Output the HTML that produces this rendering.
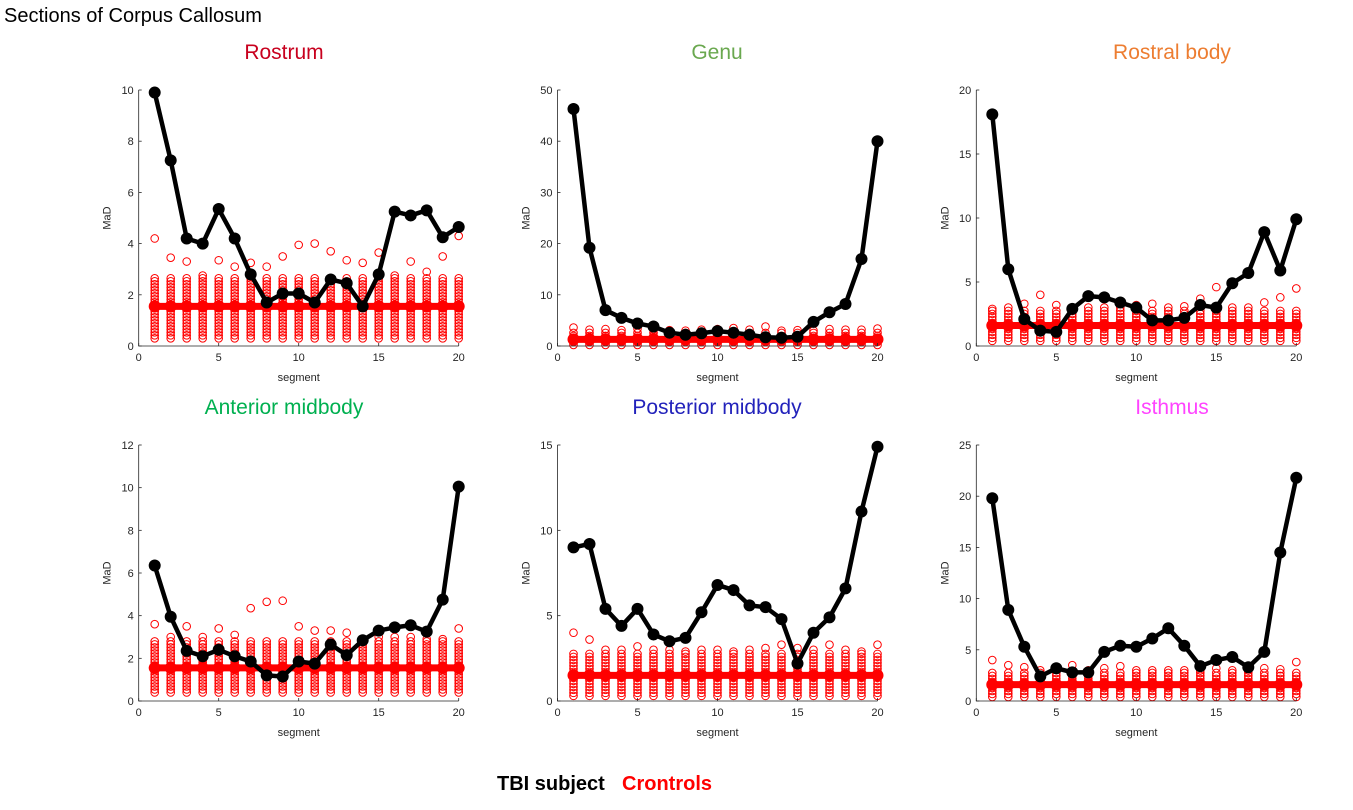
<!DOCTYPE html>
<html><head><meta charset="utf-8"><style>
body{margin:0;background:#fff;width:1353px;height:805px;overflow:hidden;font-family:"Liberation Sans",sans-serif}
svg text{font-family:"Liberation Sans",sans-serif}
</style></head><body>
<svg id="chart" width="1353" height="805">
<text x="4" y="22" font-size="20" fill="#000">Sections of Corpus Callosum</text>
<text x="497" y="790" font-size="20" font-weight="bold" fill="#000">TBI subject</text>
<text x="622" y="790" font-size="20" font-weight="bold" fill="#ff0000">Crontrols</text>
</svg>
<script>
const segments=[1,2,3,4,5,6,7,8,9,10,11,12,13,14,15,16,17,18,19,20];
const panelTitles=["Rostrum","Genu","Rostral body","Anterior midbody","Posterior midbody","Isthmus"];
const yMaxes=[10,50,20,12,15,25];
const yTicks=[[0,2,4,6,8,10],[0,10,20,30,40,50],[0,5,10,15,20],[0,2,4,6,8,10,12],[0,5,10,15],[0,5,10,15,20,25]];
const xTicks=[0,5,10,15,20];
const tbiRostrum=[9.9,7.25,4.2,4.0,5.35,4.2,2.8,1.7,2.05,2.05,1.7,2.6,2.45,1.55,2.8,5.25,5.1,5.3,4.25,4.65];
const tbiGenu=[46.3,19.2,7,5.5,4.4,3.8,2.6,2.2,2.5,2.9,2.6,2.2,1.7,1.6,1.8,4.7,6.6,8.2,17,40];
const tbiRostral=[18.1,6,2.1,1.2,1.1,2.9,3.9,3.8,3.4,3.0,2.0,2.0,2.2,3.2,3.0,4.9,5.7,8.9,5.9,9.9];
const tbiAnterior=[6.35,3.95,2.35,2.1,2.4,2.1,1.85,1.2,1.15,1.85,1.75,2.65,2.15,2.85,3.3,3.45,3.55,3.25,4.75,10.05];
const tbiPosterior=[9,9.2,5.4,4.4,5.4,3.9,3.5,3.7,5.2,6.8,6.5,5.6,5.5,4.8,2.2,4,4.9,6.6,11.1,14.9];
const tbiIsthmus=[19.8,8.9,5.3,2.4,3.2,2.8,2.8,4.8,5.4,5.3,6.1,7.1,5.4,3.4,4.0,4.3,3.3,4.8,14.5,21.8];
const ctrlMean=[1.55,1.3,1.6,1.55,1.5,1.6];
const ctrlLow=[0.3,0.2,0.4,0.4,0.3,0.4];
const ctrlHigh=[2.7,2.8,2.8,2.8,2.8,3.0];
const outRostrum=[4.2,3.45,3.3,2.75,3.35,3.1,3.25,3.1,3.5,3.95,4.0,3.7,3.35,3.25,3.65,2.75,3.3,2.9,3.5,4.3];
const outGenu=[3.6,3.2,3.3,3.1,3.4,3.2,3.1,3.0,3.2,3.3,3.5,3.2,3.8,3.0,3.1,3.0,3.3,3.2,3.2,3.4];
const outRostral=[2.9,3.0,3.3,4.0,3.2,3.0,3.0,3.0,3.0,3.2,3.3,3.0,3.1,3.7,4.6,3.0,3.0,3.4,3.8,4.5];
const outAnterior=[3.6,3.0,3.5,3.0,3.4,3.1,4.35,4.65,4.7,3.5,3.3,3.3,3.2,2.9,3.0,3.0,3.0,2.9,2.9,3.4];
const outPosterior=[4.0,3.6,3.0,3.0,3.2,3.0,3.0,2.9,3.0,3.0,2.9,3.0,3.1,3.3,3.1,3.0,3.3,3.0,2.9,3.3];
const outIsthmus=[4.0,3.5,3.3,3.0,3.3,3.5,3.0,3.2,3.4,3.0,3.0,3.0,3.0,3.0,3.2,3.0,3.0,3.2,3.1,3.8];
const tbiSeries=[tbiRostrum,tbiGenu,tbiRostral,tbiAnterior,tbiPosterior,tbiIsthmus];
const outSeries=[outRostrum,outGenu,outRostral,outAnterior,outPosterior,outIsthmus];
const titleColors=["#c8001e","#6aa84f","#ed7d31","#00b050","#2222bb","#ff44ff"];
const svg=document.getElementById('chart');
const NS="http://www.w3.org/2000/svg";
function mk(tag,attrs,parent){const e=document.createElementNS(NS,tag);for(const k in attrs)e.setAttribute(k,attrs[k]);(parent||svg).appendChild(e);return e;}
const colX=[138.7,557.5,976.3], rowY=[346,701], W=320, H=256, titleX=[284,717,1172];
for(let p=0;p<6;p++){
  const x0=colX[p%3], y0=rowY[Math.floor(p/3)], ymax=yMaxes[p];
  const sx=v=>x0+v/20*W, sy=v=>y0-v/ymax*H;
  const g=mk('g',{});
  
  
  const t=mk('text',{x:titleX[p%3],y:y0-H-31,'font-size':21,'text-anchor':'middle',fill:titleColors[p]},g);t.textContent=panelTitles[p];
  
  
  const cg=mk('g',{fill:'none',stroke:'#ff0000','stroke-width':1},g);
  
  
  segments.forEach((s,i)=>{
    const lo=sy(ctrlLow[p]), hi=sy(ctrlHigh[p]);
    for(let yy=lo;yy>=hi;yy-=3){mk('circle',{cx:sx(s),cy:yy,r:3.8},cg);}
    const c=mk('circle',{cx:sx(s),cy:sy(outSeries[p][i]),r:3.8},cg);
    
    
  });
  const mpts=segments.map(s=>sx(s)+','+sy(ctrlMean[p])).join(' ');
  const ml=mk('polyline',{points:mpts,fill:'none',stroke:'#ff0000','stroke-width':7},g);
  
  
  segments.forEach(s=>{const c=mk('circle',{cx:sx(s),cy:sy(ctrlMean[p]),r:6,fill:'#ff0000'},g);
    
    });
  const pts=segments.map((s,i)=>sx(s)+','+sy(tbiSeries[p][i])).join(' ');
  const tl=mk('polyline',{points:pts,fill:'none',stroke:'#000','stroke-width':4.5,'stroke-linejoin':'round'},g);
  
  
  segments.forEach((s,i)=>{const c=mk('circle',{cx:sx(s),cy:sy(tbiSeries[p][i]),r:6,fill:'#000'},g);
    
    });
  const ax=mk('path',{d:`M${x0},${y0-H}V${y0}H${x0+W}`,fill:'none',stroke:'#262626','stroke-width':0.8},g);
  
  
  xTicks.forEach(v=>{mk('line',{x1:sx(v),x2:sx(v),y1:y0,y2:y0-3,stroke:'#262626','stroke-width':0.8},g);
    const tt=mk('text',{x:sx(v),y:y0+15,'font-size':11,'text-anchor':'middle',fill:'#262626'},g);tt.textContent=v;
    
    });
  yTicks[p].forEach(v=>{mk('line',{x1:x0,x2:x0+3,y1:sy(v),y2:sy(v),stroke:'#262626','stroke-width':0.8},g);
    const tt=mk('text',{x:x0-5,y:sy(v)+4,'font-size':11,'text-anchor':'end',fill:'#262626'},g);tt.textContent=v;
    
    });
  const xl=mk('text',{x:x0+W/2,y:y0+35,'font-size':11,'text-anchor':'middle',fill:'#262626'},g);xl.textContent='segment';
  
  
  const yl=mk('text',{x:0,y:0,'font-size':11,'text-anchor':'middle',fill:'#262626',transform:`translate(${x0-28},${y0-H/2}) rotate(-90)`},g);yl.textContent='MaD';
  
  
}
</script>
</body></html>
